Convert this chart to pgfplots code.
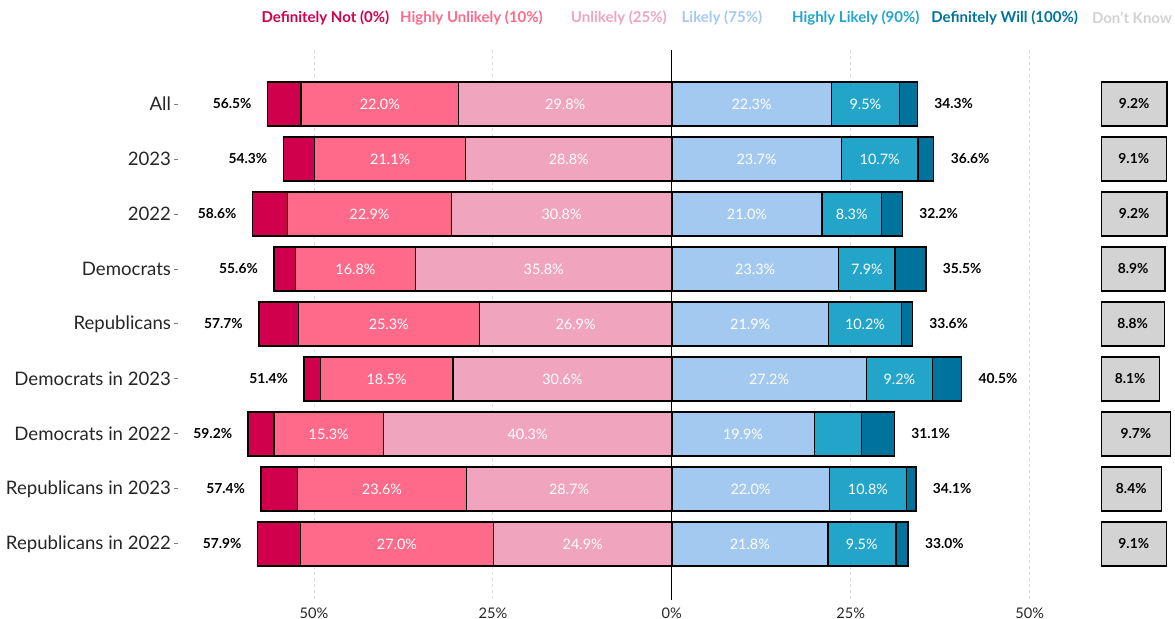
\documentclass[border=0pt]{standalone}
\usepackage{fontspec}
\setmainfont{Lato}
\usepackage{pgfplots}
\pgfplotsset{compat=1.18}

\definecolor{cDN}{HTML}{D1004C}
\definecolor{cHU}{HTML}{FF6A8A}
\definecolor{cU}{HTML}{F0A4BE}
\definecolor{cL}{HTML}{A4C9F0}
\definecolor{cHL}{HTML}{23A4C9}
\definecolor{cDW}{HTML}{00739C}
\definecolor{cDK}{HTML}{D3D3D3}
\definecolor{cDKt}{HTML}{D2D2D2}

\pgfplotsset{
  base/.style={
    scale only axis, width=497.4pt, height=275pt,
    ymin=-0.98, ymax=9.02, y dir=reverse,
    clip=false, xbar stacked, bar width=0.8,
    every axis plot/.append style={draw=black, line width=0.7pt},
  },
  over/.style={base, at={(main.south west)}, anchor=south west, axis lines=none},
}
\tikzset{
  inbar/.style={font=\fontsize{7.2}{8}\selectfont, text=white},
  tot/.style={font=\fontsize{6.9}{8}\selectfont\bfseries},
  leg/.style={font=\fontsize{7.5}{9}\selectfont\bfseries},
}
% in-bar and total labels
\newcommand{\inl}[3]{\node[inbar] at (axis cs:#1,#2) {#3\%};}
\newcommand{\ltot}[2]{\node[tot, anchor=east, xshift=-4.5pt] at (axis cs:-#1,#2) {#1\%};}
\newcommand{\rtot}[2]{\node[tot, anchor=west, xshift=5pt] at (axis cs:#1,#2) {#1\%};}

\begin{document}
\begin{tikzpicture}
% left side: unlikely, highly unlikely, definitely not
\begin{axis}[base, name=main,
  xmin=-69, xmax=70,
  axis line style={draw=none},
  tick pos=left,
  xtick={-50,-25,25,50}, xticklabels={50\%,25\%,25\%,50\%},
  extra x ticks={0}, extra x tick labels={0\%},
  extra x tick style={grid=major, major grid style={black, solid, line width=0.6pt}},
  xmajorgrids,
  major grid style={black!12, dash pattern=on 1.5pt off 1.5pt, line width=0.4pt},
  xtick style={draw=none},
  ytick={0,...,8},
  yticklabels={All,2023,2022,Democrats,Republicans,Democrats in 2023,Democrats in 2022,Republicans in 2023,Republicans in 2022},
  ytick style={black!50, line width=0.4pt},
  tick align=outside, major tick length=1.8pt,
  yticklabel style={font=\fontsize{9.3}{11}\selectfont, text=black!85, inner sep=1.5pt},
  xticklabel style={font=\fontsize{7.3}{8}\selectfont, text=black!85, yshift=1.5pt},
]
\addplot[fill=cU] coordinates {(-29.8,0) (-28.8,1) (-30.8,2) (-35.8,3) (-26.9,4) (-30.6,5) (-40.3,6) (-28.7,7) (-24.9,8)};
\addplot[fill=cHU] coordinates {(-22.0,0) (-21.1,1) (-22.9,2) (-16.8,3) (-25.3,4) (-18.5,5) (-15.3,6) (-23.6,7) (-27.0,8)};
\addplot[fill=cDN] coordinates {(-4.7,0) (-4.4,1) (-4.9,2) (-3.0,3) (-5.5,4) (-2.3,5) (-3.6,6) (-5.1,7) (-6.0,8)};
\end{axis}

% right side: likely, highly likely, definitely will
\begin{axis}[over, xmin=-69, xmax=70]
\addplot[fill=cL] coordinates {(22.3,0) (23.7,1) (21.0,2) (23.3,3) (21.9,4) (27.2,5) (19.9,6) (22.0,7) (21.8,8)};
\addplot[fill=cHL] coordinates {(9.5,0) (10.7,1) (8.3,2) (7.9,3) (10.2,4) (9.2,5) (6.6,6) (10.8,7) (9.5,8)};
\addplot[fill=cDW] coordinates {(2.5,0) (2.2,1) (2.9,2) (4.3,3) (1.5,4) (4.1,5) (4.6,6) (1.3,7) (1.7,8)};
\end{axis}

% don't know, drawn from 60%
\begin{axis}[over, xmin=-129, xmax=10]
\addplot[fill=cDK] coordinates {(9.2,0) (9.1,1) (9.2,2) (8.9,3) (8.8,4) (8.1,5) (9.7,6) (8.4,7) (9.1,8)};
\end{axis}

% all text on top
\begin{axis}[over, xmin=-69, xmax=70]
\inl{-14.9}{0}{29.8} \inl{-40.8}{0}{22.0}
\inl{-14.4}{1}{28.8} \inl{-39.35}{1}{21.1}
\inl{-15.4}{2}{30.8} \inl{-42.25}{2}{22.9}
\inl{-17.9}{3}{35.8} \inl{-44.2}{3}{16.8}
\inl{-13.45}{4}{26.9} \inl{-39.55}{4}{25.3}
\inl{-15.3}{5}{30.6} \inl{-39.85}{5}{18.5}
\inl{-20.15}{6}{40.3} \inl{-47.95}{6}{15.3}
\inl{-14.35}{7}{28.7} \inl{-40.5}{7}{23.6}
\inl{-12.45}{8}{24.9} \inl{-38.4}{8}{27.0}

\inl{11.15}{0}{22.3} \inl{27.05}{0}{9.5}
\inl{11.85}{1}{23.7} \inl{29.05}{1}{10.7}
\inl{10.5}{2}{21.0} \inl{25.15}{2}{8.3}
\inl{11.65}{3}{23.3} \inl{27.25}{3}{7.9}
\inl{10.95}{4}{21.9} \inl{27.0}{4}{10.2}
\inl{13.6}{5}{27.2} \inl{31.8}{5}{9.2}
\inl{9.95}{6}{19.9}
\inl{11.0}{7}{22.0} \inl{27.4}{7}{10.8}
\inl{10.9}{8}{21.8} \inl{26.55}{8}{9.5}

\ltot{56.5}{0} \ltot{54.3}{1} \ltot{58.6}{2} \ltot{55.6}{3} \ltot{57.7}{4}
\ltot{51.4}{5} \ltot{59.2}{6} \ltot{57.4}{7} \ltot{57.9}{8}
\rtot{34.3}{0} \rtot{36.6}{1} \rtot{32.2}{2} \rtot{35.5}{3} \rtot{33.6}{4}
\rtot{40.5}{5} \rtot{31.1}{6} \rtot{34.1}{7} \rtot{33.0}{8}

\node[tot] at (axis cs:64.6,0) {9.2\%};
\node[tot] at (axis cs:64.55,1) {9.1\%};
\node[tot] at (axis cs:64.6,2) {9.2\%};
\node[tot] at (axis cs:64.45,3) {8.9\%};
\node[tot] at (axis cs:64.4,4) {8.8\%};
\node[tot] at (axis cs:64.05,5) {8.1\%};
\node[tot] at (axis cs:64.85,6) {9.7\%};
\node[tot] at (axis cs:64.2,7) {8.4\%};
\node[tot] at (axis cs:64.55,8) {9.1\%};

% legend
\node[leg, text=cDN] at (axis cs:-48.4,-1.56) {Definitely Not (0\%)};
\node[leg, text=cHU] at (axis cs:-28.0,-1.56) {Highly Unlikely (10\%)};
\node[leg, text=cU] at (axis cs:-7.4,-1.56) {Unlikely (25\%)};
\node[leg, text=cL] at (axis cs:7.0,-1.56) {Likely (75\%)};
\node[leg, text=cHL] at (axis cs:25.7,-1.56) {Highly Likely (90\%)};
\node[leg, text=cDW] at (axis cs:46.5,-1.56) {Definitely Will (100\%)};
\node[leg, text=cDKt] at (axis cs:64.3,-1.56) {Don't Know};
\end{axis}

\pgfresetboundingbox
\path[use as bounding box] (main.south west) ++(-89pt,-9.5pt) rectangle ++(587.5pt,309.5pt);
\end{tikzpicture}
\end{document}
